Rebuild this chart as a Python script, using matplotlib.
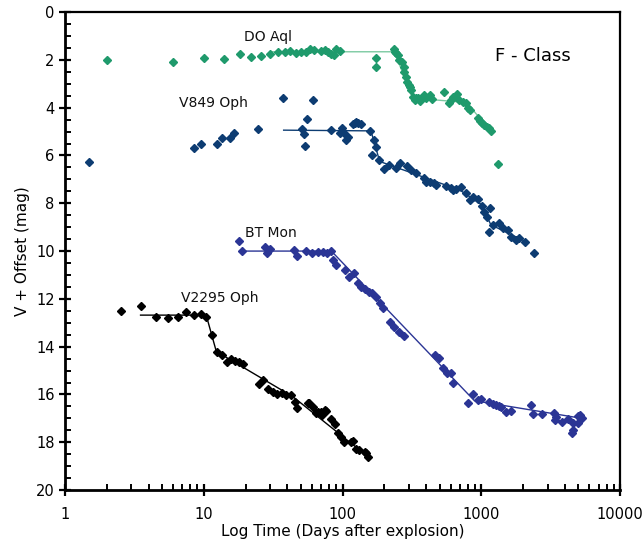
"""F-class nova light curves: V + offset against log time since explosion."""

import matplotlib

matplotlib.use("Agg")

import matplotlib.pyplot as plt
import numpy as np
from matplotlib.ticker import FixedLocator, MultipleLocator, NullFormatter

# DO Aql (green)
do_aql_t = [2.0, 6.0, 10.0, 14.0, 18.1, 22, 26, 30, 34.3, 38.3, 42, 45.9, 50.1, 54.2, 57.9,
            61.9, 70.3, 75, 78.4, 82.8, 86, 90, 95, 173, 175, 234, 240, 243, 250, 257, 267,
            275, 279, 287, 290, 300, 305, 312, 321, 330, 340, 348, 362, 383, 400, 423, 442,
            535, 582, 605, 629, 664, 695, 734, 776, 798, 829, 940, 979, 1011, 1051, 1092,
            1142, 1173, 1310]
do_aql_m = [2.0, 2.1, 1.92, 1.97, 1.77, 1.87, 1.83, 1.76, 1.67, 1.67, 1.63, 1.73, 1.66, 1.66,
            1.55, 1.60, 1.63, 1.60, 1.69, 1.77, 1.80, 1.55, 1.63, 2.29, 1.94, 1.55, 1.66,
            1.73, 1.80, 2.0, 2.08, 2.29, 2.5, 2.71, 2.92, 3.05, 3.15, 3.26, 3.54, 3.68, 3.61,
            3.61, 3.71, 3.47, 3.61, 3.47, 3.65, 3.33, 3.82, 3.68, 3.54, 3.44, 3.68, 3.75,
            3.79, 4.03, 4.10, 4.45, 4.55, 4.63, 4.73, 4.80, 4.87, 4.98, 6.37]
do_aql_fit_t = [30, 236, 320, 780, 1180]
do_aql_fit_m = [1.66, 1.66, 3.6, 3.78, 5.0]

# V849 Oph (navy)
v849_t = [1.5, 8.5, 9.5, 12.5, 13.5, 15.5, 16.4, 24.6, 37.4, 51, 52.7, 53.9, 55.3, 61.1,
          82.8, 95, 99.5, 103, 106, 109, 118.6, 122, 125, 129, 136, 158, 164, 167, 173,
          182, 198, 215, 243, 261, 290, 312, 339, 383, 400, 423, 459, 472, 557, 605, 622,
          658, 714, 776, 829, 866, 940, 1011, 1051, 1092, 1128, 1153, 1205, 1330, 1422,
          1545, 1634, 1775, 1877, 2074, 2378]
v849_m = [6.29, 5.68, 5.5, 5.5, 5.28, 5.28, 5.05, 4.9, 3.58, 4.9, 5.1, 5.59, 4.49, 3.68,
          4.94, 5.08, 4.87, 5.08, 5.36, 5.24, 4.69, 4.63, 4.59, 4.63, 4.69, 4.98, 5.98,
          5.36, 5.64, 6.19, 6.58, 6.4, 6.54, 6.33, 6.43, 6.61, 6.75, 6.96, 7.1, 7.1, 7.14,
          7.24, 7.28, 7.38, 7.45, 7.42, 7.31, 7.59, 7.87, 7.73, 7.8, 8.1, 8.36, 8.56, 9.19,
          8.19, 8.91, 8.84, 9.05, 9.12, 9.4, 9.54, 9.47, 9.61, 10.1]
v849_fit_t = [37.6, 160, 185, 700, 1000, 1170, 2100]
v849_fit_m = [4.94, 4.97, 6.25, 7.45, 8.05, 8.9, 9.61]

# BT Mon (blue)
bt_mon_t = [17.9, 18.8, 27.8, 28.5, 29.8, 44.6, 46.9, 54.2, 60, 66.4, 72, 77.6, 82.8, 85,
            90, 104, 112, 120, 129, 136, 146, 156, 164, 175, 185, 197, 218, 233, 257, 279,
            467, 499, 533, 563, 605, 622, 797, 866, 940, 993, 1128, 1205, 1275, 1330, 1387,
            1505, 1634, 2275, 2339, 2734, 3352, 3444, 3407, 3786, 4179, 4489, 4539, 4590,
            4934, 4934, 5300, 5130]
bt_mon_m = [9.57, 10.0, 9.82, 10.1, 9.93, 9.96, 10.2, 9.99, 10.1, 10.03, 10.03, 10.07,
            9.99, 10.38, 10.59, 10.79, 11.07, 10.93, 11.33, 11.52, 11.6, 11.7, 11.77, 11.94,
            12.16, 12.37, 12.96, 13.17, 13.4, 13.56, 14.35, 14.46, 14.91, 15.12, 15.1,
            15.51, 16.37, 15.98, 16.23, 16.2, 16.3, 16.4, 16.44, 16.47, 16.54, 16.75, 16.68,
            16.44, 16.82, 16.83, 16.79, 16.93, 17.07, 17.14, 17.03, 17.63, 17.49, 17.21,
            16.9, 17.21, 17.0, 16.86]
bt_mon_fit_t = [18.8, 83, 890, 4934]
bt_mon_fit_m = [10.0, 10.0, 16.26, 16.97]

# V2295 Oph (black)
v2295_t = [2.52, 3.5, 4.5, 5.5, 6.5, 7.5, 8.5, 9.5, 10.4, 11.5, 12.5, 13.5, 14.6, 15.6,
           16.7, 17.9, 19, 25, 26.7, 29, 31.5, 33.7, 36.8, 39.3, 42.7, 45.7, 46.9, 56.2,
           57.3, 61.1, 64.7, 66.4, 70.3, 71.4, 74.2, 76.2, 82.8, 87.5, 92.5, 97.7, 103,
           115, 118.6, 125, 132, 144, 148, 152]
v2295_m = [12.5, 12.29, 12.75, 12.79, 12.75, 12.57, 12.68, 12.65, 12.75, 13.51, 14.24,
           14.35, 14.63, 14.52, 14.59, 14.66, 14.73, 15.56, 15.4, 15.79, 15.89, 15.98,
           15.95, 16.03, 16.03, 16.3, 16.58, 16.35, 16.37, 16.54, 16.77, 16.72, 16.72,
           16.86, 16.65, 16.69, 17.04, 17.24, 17.6, 17.77, 17.98, 17.98, 17.94, 18.28,
           18.33, 18.4, 18.47, 18.6]
v2295_fit_t = [3.5, 10.4, 12.3, 44, 148]
v2295_fit_m = [12.68, 12.68, 14.2, 16.1, 18.55]

series = [
    ("DO Aql", do_aql_t, do_aql_m, do_aql_fit_t, do_aql_fit_m, "#1f9a6c", "#7ccaa2", (19.4, 1.05)),
    ("V849 Oph", v849_t, v849_m, v849_fit_t, v849_fit_m, "#0d3c72", "#0d3c72", (6.6, 3.8)),
    ("BT Mon", bt_mon_t, bt_mon_m, bt_mon_fit_t, bt_mon_fit_m, "#2b3595", "#2b3595", (19.7, 9.26)),
    ("V2295 Oph", v2295_t, v2295_m, v2295_fit_t, v2295_fit_m, "#000000", "#000000", (6.8, 11.98)),
]

fig = plt.figure(figsize=(6.44, 5.5), dpi=100)
ax = fig.add_axes([0.101, 0.109, 0.862, 0.869])

for name, t, m, fit_t, fit_m, color, line_color, label_pos in series:
    ax.plot(fit_t, fit_m, color=line_color, linewidth=1.0, zorder=2)
    ax.errorbar(t, m, yerr=0.12, fmt="D", color=color, markersize=4.5,
                elinewidth=0.8, capsize=0, zorder=3)
    ax.text(label_pos[0], label_pos[1], name, fontsize=10, color="#111111", va="center")

ax.text(0.775, 0.909, "F - Class", transform=ax.transAxes, fontsize=13, va="center")

ax.set_xscale("log")
ax.set_xlim(1, 10000)
ax.set_ylim(20, 0)
ax.set_xlabel("Log Time (Days after explosion)", fontsize=11, labelpad=2)
ax.set_ylabel("V + Offset (mag)", fontsize=11, labelpad=4)

ax.xaxis.set_major_locator(FixedLocator([1, 10, 100, 1000, 10000]))
ax.set_xticklabels(["1", "10", "100", "1000", "10000"])
minor = [k * 10 ** d for d in range(4) for k in range(2, 10)]
ax.xaxis.set_minor_locator(FixedLocator(minor))
ax.xaxis.set_minor_formatter(NullFormatter())
ax.yaxis.set_major_locator(MultipleLocator(2))
ax.yaxis.set_minor_locator(MultipleLocator(0.5))

ax.tick_params(which="major", direction="inout", length=8, width=1.6, labelsize=10.5,
               top=False, right=False)
ax.tick_params(which="minor", direction="in", length=4, width=1.4, top=False, right=False)
ax.tick_params(axis="x", pad=8)
for side in ["left", "bottom"]:
    ax.spines[side].set_linewidth(2.0)
for side in ["top", "right"]:
    ax.spines[side].set_linewidth(1.6)

fig.savefig("out.png", dpi=100)
